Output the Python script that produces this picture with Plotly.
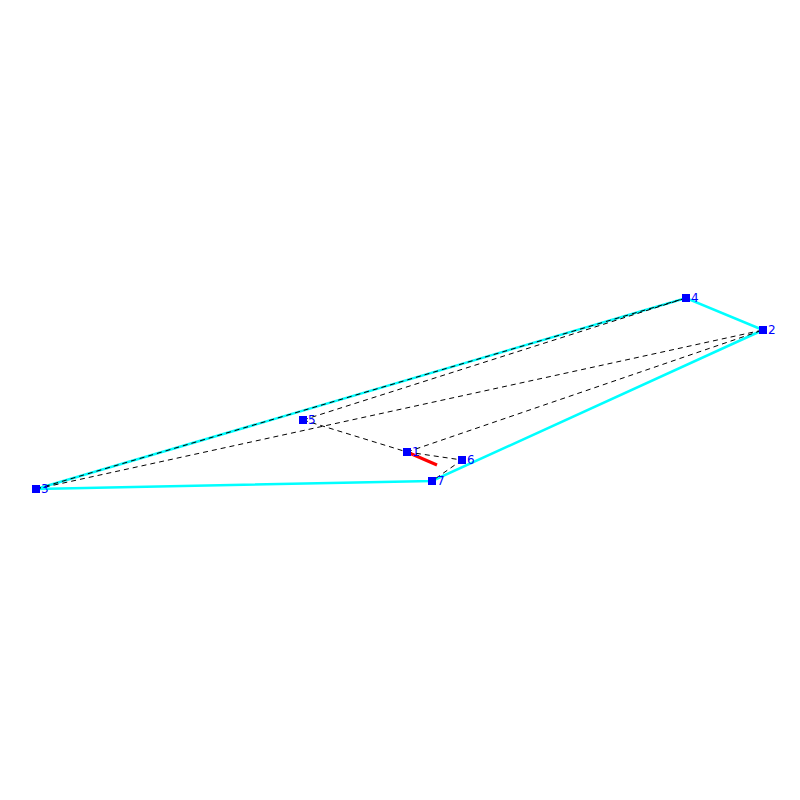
import plotly.graph_objects as go

# node positions
node_ids = ["1", "2", "3", "4", "5", "6", "7"]
node_x = [407, 763, 36, 686, 303, 462, 432]
node_y = [452, 330, 489, 298, 420, 460, 481]

# outer hull and inner edges, as node labels
hull = ["3", "4", "2", "7", "3"]
edges = [("3", "4"), ("3", "2"), ("5", "4"), ("5", "1"),
         ("1", "2"), ("1", "6"), ("6", "7")]

# short red segment leaving node 1
red_x = [407, 437]
red_y = [452, 465]

pos = {n: (x, y) for n, x, y in zip(node_ids, node_x, node_y)}

hull_x = [pos[n][0] for n in hull]
hull_y = [pos[n][1] for n in hull]

edge_x = []
edge_y = []
for a, b in edges:
    edge_x += [pos[a][0], pos[b][0], None]
    edge_y += [pos[a][1], pos[b][1], None]

fig = go.Figure()

fig.add_trace(go.Scatter(x=hull_x, y=hull_y, mode="lines",
                         line=dict(color="#00ffff", width=2.5)))
fig.add_trace(go.Scatter(x=edge_x, y=edge_y, mode="lines",
                         line=dict(color="black", width=1, dash="5px,4px")))
fig.add_trace(go.Scatter(x=red_x, y=red_y, mode="lines",
                         line=dict(color="#ff0000", width=3)))
fig.add_trace(go.Scatter(x=node_x, y=node_y, mode="markers",
                         marker=dict(symbol="square", size=8, color="#0000ff")))

# labels sit to the right of each square
for n, x, y in zip(node_ids, node_x, node_y):
    fig.add_annotation(x=x, y=y, text=n, showarrow=False, xanchor="left",
                       xshift=3, font=dict(family="DejaVu Sans", size=12, color="#0000ff"))

# the page body adds 8px, so the axis ranges start at 8
fig.update_layout(width=800, height=800, autosize=False, showlegend=False,
                  margin=dict(l=0, r=0, t=0, b=0),
                  paper_bgcolor="white", plot_bgcolor="white",
                  xaxis=dict(range=[8, 808], visible=False),
                  yaxis=dict(range=[808, 8], visible=False))

fig.write_html("out.html", config={"displayModeBar": False})
